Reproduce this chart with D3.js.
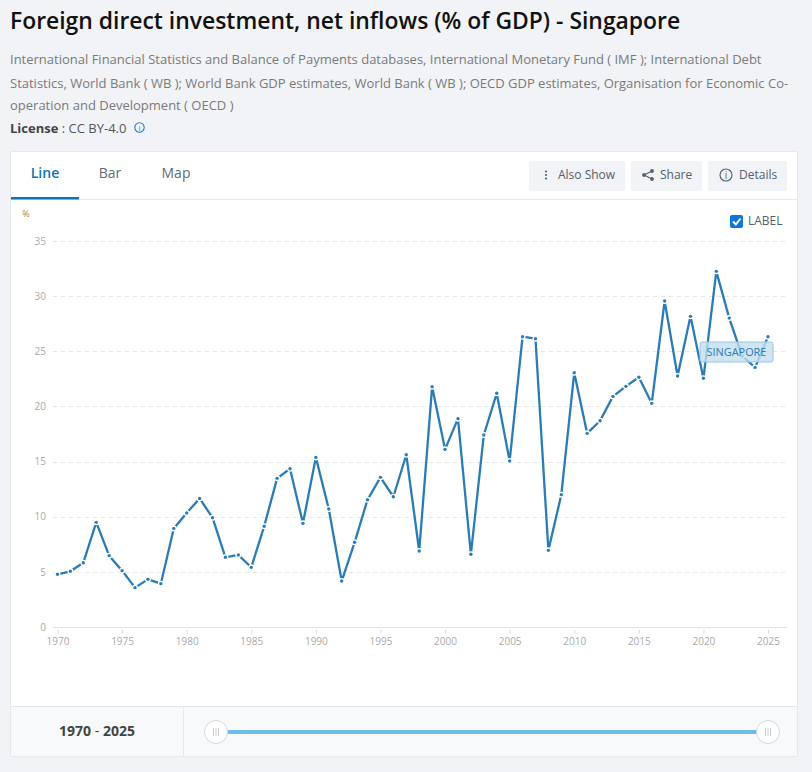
<!DOCTYPE html>
<meta charset="utf-8">
<style>
  html, body { margin: 0; background: #f1f3f7; overflow: hidden; }
  svg { display: block; font-family: "Open Sans", sans-serif; }
  .grid line { stroke: #e6e6e6; stroke-dasharray: 4 4; }
  .axis text { font-size: 10px; fill: #a9a9a9; font-family: "Open Sans", sans-serif; }
  .axis line, .axis path { stroke: #d8d8d8; }
</style>
<script src="https://d3js.org/d3.v7.min.js"></script>
<svg id="chart" width="812" height="772"></svg>

<script>
  // Data
  var years = [1970, 1971, 1972, 1973, 1974, 1975, 1976, 1977, 1978, 1979,
    1980, 1981, 1982, 1983, 1984, 1985, 1986, 1987, 1988, 1989,
    1990, 1991, 1992, 1993, 1994, 1995, 1996, 1997, 1998, 1999,
    2000, 2001, 2002, 2003, 2004, 2005, 2006, 2007, 2008, 2009,
    2010, 2011, 2012, 2013, 2014, 2015, 2016, 2017, 2018, 2019,
    2020, 2021, 2022, 2023, 2024, 2025];
  var values = [4.78, 5.05, 5.83, 9.49, 6.47, 5.11, 3.57, 4.32, 3.93, 8.94,
    10.34, 11.66, 9.91, 6.32, 6.53, 5.41, 9.13, 13.48, 14.35, 9.40,
    15.38, 10.70, 4.17, 7.68, 11.54, 13.57, 11.81, 15.62, 6.89, 21.79,
    16.11, 18.89, 6.59, 17.41, 21.19, 15.05, 26.32, 26.14, 6.95, 12.0,
    23.05, 17.56, 18.7, 20.91, 21.82, 22.64, 20.28, 29.56, 22.76, 28.17,
    22.55, 32.25, 28.01, 24.57, 23.54, 26.32];
  var yTicks = [0, 5, 10, 15, 20, 25, 30, 35];
  var xTicks = [1970, 1975, 1980, 1985, 1990, 1995, 2000, 2005, 2010, 2015, 2020, 2025];
  var title = "Foreign direct investment, net inflows (% of GDP) - Singapore";
  var sourceLines = [
    "International Financial Statistics and Balance of Payments databases, International Monetary Fund ( IMF ); International Debt",
    "Statistics, World Bank ( WB ); World Bank GDP estimates, World Bank ( WB ); OECD GDP estimates, Organisation for Economic Co-",
    "operation and Development ( OECD )"
  ];
  var tabs = ["Line", "Bar", "Map"];
  var tabCenters = [45, 110, 176];

  var svg = d3.select("#chart");
  var lineColor = "#2b7bb5";

  // Page header
  svg.append("text").attr("x", 10).attr("y", 29)
    .attr("font-size", 22.9).attr("font-weight", 600).attr("fill", "#111")
    .text(title);

  svg.selectAll(".src").data(sourceLines).enter().append("text")
    .attr("x", 10).attr("y", (d, i) => [64, 88, 110][i])
    .attr("font-size", 13).attr("fill", "#7a7a7a")
    .text(d => d);

  var lic = svg.append("text").attr("x", 10).attr("y", 133).attr("font-size", 13).attr("fill", "#555");
  lic.append("tspan").attr("font-weight", 700).attr("fill", "#444").text("License");
  lic.append("tspan").text(" : CC BY-4.0");

  var info = svg.append("g").attr("transform", "translate(139.5,127.5)");
  info.append("circle").attr("r", 4.7).attr("fill", "none").attr("stroke", "#1b7fc4").attr("stroke-width", 1.1);
  info.append("text").attr("text-anchor", "middle").attr("y", 3).attr("font-size", 8).attr("fill", "#1b7fc4").text("i");

  // Card
  svg.append("rect").attr("x", 10.5).attr("y", 151.5).attr("width", 787).attr("height", 605)
    .attr("fill", "#fff").attr("stroke", "#e6e8ec");
  svg.append("line").attr("x1", 11).attr("x2", 797).attr("y1", 199.5).attr("y2", 199.5).attr("stroke", "#e6e8ec");
  svg.append("rect").attr("x", 11).attr("y", 197).attr("width", 68).attr("height", 2.5).attr("fill", "#0b76bd");

  svg.selectAll(".tab").data(tabs).enter().append("text")
    .attr("x", (d, i) => tabCenters[i]).attr("y", 178)
    .attr("text-anchor", "middle").attr("font-size", 14)
    .attr("font-weight", (d, i) => i == 0 ? 600 : 400)
    .attr("fill", (d, i) => i == 0 ? "#0b76bd" : "#5f6b75")
    .text(d => d);

  // Buttons
  var buttons = [
    { label: "Also Show", x: 529, w: 96, tx: 558 },
    { label: "Share", x: 631, w: 71, tx: 660 },
    { label: "Details", x: 708, w: 79, tx: 739 }
  ];
  svg.selectAll(".btn").data(buttons).enter().append("rect")
    .attr("x", d => d.x).attr("y", 161).attr("width", d => d.w).attr("height", 30)
    .attr("rx", 2).attr("fill", "#f1f3f6");
  svg.selectAll(".btnt").data(buttons).enter().append("text")
    .attr("x", d => d.tx).attr("y", 179).attr("font-size", 12).attr("fill", "#55606a")
    .text(d => d.label);

  // dots icon
  svg.selectAll(".dot3").data([-3.5, 0, 3.5]).enter().append("circle")
    .attr("cx", 546).attr("cy", d => 175 + d).attr("r", 1.1).attr("fill", "#55606a");
  // share icon
  var share = svg.append("g").attr("transform", "translate(648,175)");
  share.append("path").attr("d", "M4,-4L-4,0L4,4").attr("fill", "none").attr("stroke", "#55606a").attr("stroke-width", 1.1);
  share.selectAll("circle").data([[4, -4], [-4, 0], [4, 4]]).enter().append("circle")
    .attr("cx", d => d[0]).attr("cy", d => d[1]).attr("r", 1.9).attr("fill", "#55606a");
  // details icon
  var det = svg.append("g").attr("transform", "translate(726,175)");
  det.append("circle").attr("r", 6).attr("fill", "none").attr("stroke", "#55606a").attr("stroke-width", 1.1);
  det.append("text").attr("text-anchor", "middle").attr("y", 3.5).attr("font-size", 10).attr("fill", "#55606a").text("i");

  // Scales and axes
  var x = d3.scaleLinear().domain([1970, 2025]).range([57.5, 768]);
  var y = d3.scaleLinear().domain([0, 35]).range([627, 241]);

  svg.append("g").attr("class", "grid")
    .selectAll("line").data(yTicks.slice(1)).enter().append("line")
    .attr("x1", 53).attr("x2", 787)
    .attr("y1", d => Math.round(y(d)) + 0.5).attr("y2", d => Math.round(y(d)) + 0.5);

  svg.append("line").attr("x1", 53).attr("x2", 787).attr("y1", 627.5).attr("y2", 627.5)
    .attr("stroke", "#e3e3e3").attr("stroke-width", 1.2);

  var xAxis = svg.append("g").attr("class", "axis").attr("transform", "translate(0,630)")
    .call(d3.axisBottom(x).tickValues(xTicks).tickFormat(d3.format("d")).tickSize(3.5).tickPadding(4));
  xAxis.select(".domain").remove();

  var yAxis = svg.append("g").attr("class", "axis").attr("transform", "translate(46,0)")
    .call(d3.axisLeft(y).tickValues(yTicks).tickSize(0).tickPadding(0));
  yAxis.select(".domain").remove();

  svg.append("text").attr("x", 26).attr("y", 217).attr("text-anchor", "middle")
    .attr("font-size", 9).attr("fill", "#b08050").text("%");

  // Line and markers
  var points = years.map((d, i) => [d, values[i]]);
  var line = d3.line().x(d => x(d[0])).y(d => y(d[1]));

  svg.append("path").datum(points)
    .attr("d", line)
    .attr("fill", "none").attr("stroke", lineColor).attr("stroke-width", 2.3)
    .attr("stroke-linejoin", "bevel");

  svg.selectAll(".pt").data(points).enter().append("circle")
    .attr("cx", d => x(d[0])).attr("cy", d => y(d[1])).attr("r", 1.7)
    .attr("fill", lineColor).attr("stroke", "#fff").attr("stroke-width", 2.6)
    .style("paint-order", "stroke");

  // End label
  svg.append("rect").attr("x", 700).attr("y", 342).attr("width", 73).attr("height", 20).attr("rx", 2)
    .attr("fill", "#c4deef").attr("fill-opacity", 0.8).attr("stroke", "#9cc5df");
  svg.append("text").attr("x", 736.5).attr("y", 355.7).attr("text-anchor", "middle")
    .attr("font-size", 10.9).attr("fill", lineColor).text("SINGAPORE");

  // Label checkbox
  svg.append("rect").attr("x", 730).attr("y", 215).attr("width", 13).attr("height", 13).attr("rx", 2).attr("fill", "#0b76e0");
  svg.append("path").attr("d", "M733,221.5L735.8,224.5L740.5,218.5")
    .attr("fill", "none").attr("stroke", "#fff").attr("stroke-width", 2);
  svg.append("text").attr("x", 748).attr("y", 225).attr("font-size", 12).attr("fill", "#55606a").text("LABEL");

  // Range slider
  svg.append("rect").attr("x", 11).attr("y", 707).attr("width", 786).attr("height", 49).attr("fill", "#f7f9fb");
  svg.append("line").attr("x1", 11).attr("x2", 797).attr("y1", 706.5).attr("y2", 706.5).attr("stroke", "#e6e8ec");
  svg.append("line").attr("x1", 183.5).attr("x2", 183.5).attr("y1", 707).attr("y2", 756).attr("stroke", "#e6e8ec");

  var rangeLabel = svg.append("text").attr("x", 97).attr("y", 736).attr("text-anchor", "middle")
    .attr("font-size", 14).attr("fill", "#444");
  rangeLabel.append("tspan").attr("font-weight", 700).text(years[0]);
  rangeLabel.append("tspan").text(" - ");
  rangeLabel.append("tspan").attr("font-weight", 700).text(years[years.length - 1]);

  svg.append("rect").attr("x", 216).attr("y", 730).attr("width", 552).attr("height", 4).attr("fill", "#6cbcf0");
  var handles = svg.selectAll(".handle").data([216, 768]).enter().append("g")
    .attr("transform", d => "translate(" + d + ",732)");
  handles.append("circle").attr("r", 11.5).attr("fill", "#fff").attr("stroke", "#d5d9de");
  handles.selectAll("line").data([-2.5, 0, 2.5]).enter().append("line")
    .attr("x1", d => d).attr("x2", d => d).attr("y1", -4).attr("y2", 4).attr("stroke", "#c9cdd2");
</script>
